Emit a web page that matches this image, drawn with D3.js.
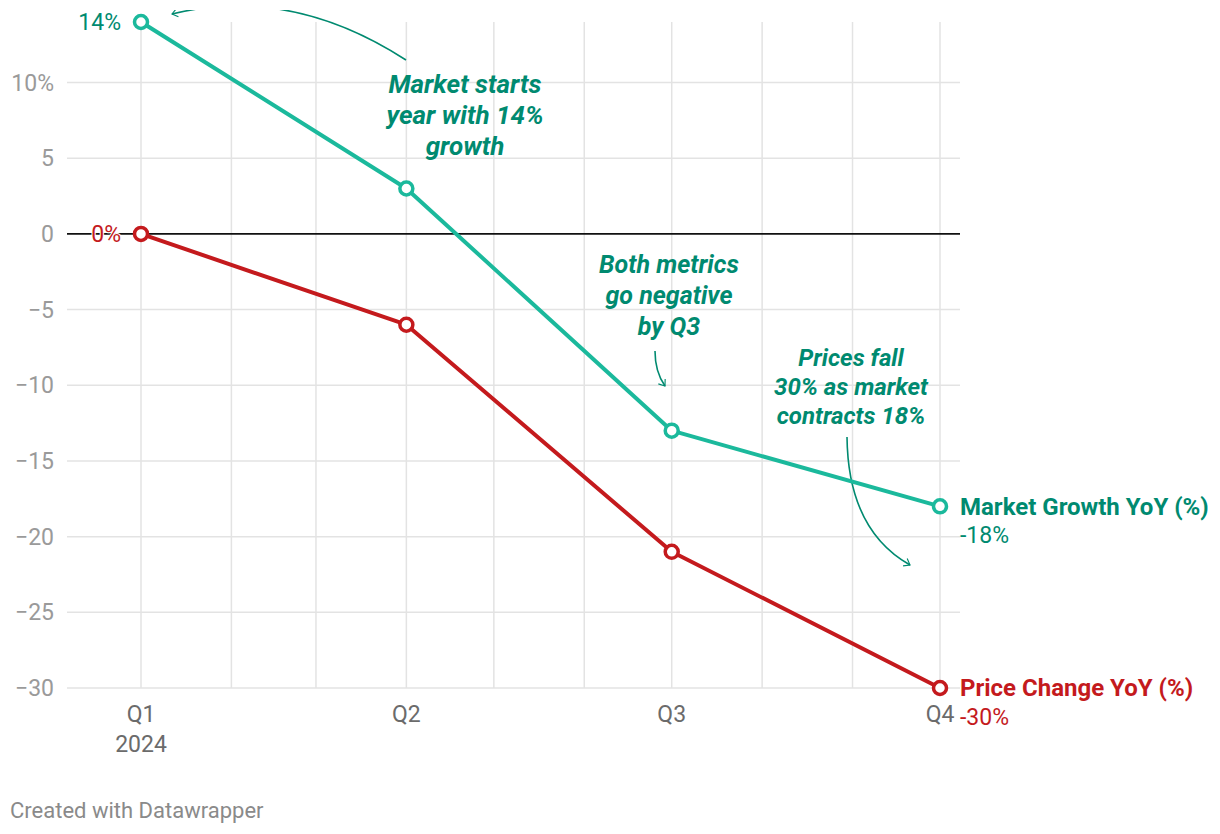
<!DOCTYPE html>
<html>
<head>
<meta charset="utf-8">
<script src="https://cdn.jsdelivr.net/npm/d3@7"></script>
<style>
  html, body { margin: 0; padding: 0; background: #fff; }
  svg { display: block; font-family: Roboto, "Noto Sans", sans-serif; }
</style>
</head>
<body>
<svg id="chart" width="1220" height="834"></svg>
<script>
// ---- Data ----
const quarters = ["Q1", "Q2", "Q3", "Q4"];
const quarterDates = ["2024-01-01", "2024-04-01", "2024-07-01", "2024-10-01"];
const marketGrowth = [14, 3, -13, -18];
const priceChange = [0, -6, -21, -30];
const yTicks = [10, 5, 0, -5, -10, -15, -20, -25, -30];
const seriesNames = ["Market Growth YoY (%)", "Price Change YoY (%)"];
const annotationTexts = [
  ["Market starts", "year with 14%", "growth"],
  ["Both metrics", "go negative", "by Q3"],
  ["Prices fall", "30% as market", "contracts 18%"]
];

// ---- Layout / style ----
const W = 1220, H = 834;
const plot = { left: 67, right: 960, top: 22, bottom: 688 };
const C = {
  teal: "#1bb99c", tealText: "#008a70",
  red: "#c41a1d", redText: "#c41a1d",
  grid: "#e3e3e3", axisText: "#9a9a9a", xText: "#6b6b6b", zero: "#111"
};
const parse = d3.timeParse("%Y-%m-%d");
const dates = quarterDates.map(parse);

const svg = d3.select("#chart");
const x = d3.scaleTime().domain([dates[0], dates[3]]).range([141, 940]);
const y = d3.scaleLinear().domain([-30, 14]).range([plot.bottom, plot.top]);

// horizontal grid
svg.append("g").selectAll("line").data(yTicks.filter(d => d !== 0)).join("line")
  .attr("x1", plot.left).attr("x2", plot.right)
  .attr("y1", d => y(d)).attr("y2", d => y(d))
  .attr("stroke", C.grid).attr("stroke-width", 1.5);

// vertical monthly grid
const months = x.ticks(d3.timeMonth.every(1));
svg.append("g").selectAll("line").data(months).join("line")
  .attr("x1", d => x(d)).attr("x2", d => x(d))
  .attr("y1", plot.top).attr("y2", plot.bottom)
  .attr("stroke", C.grid).attr("stroke-width", 1.5);

// y labels
svg.append("g").selectAll("text").data(yTicks).join("text")
  .attr("x", 54).attr("y", d => y(d)).attr("dy", "0.35em")
  .attr("text-anchor", "end").attr("fill", C.axisText)
  .style("font-size", "23px")
  .text(d => (d < 0 ? "\u2212" + Math.abs(d) : d) + (d === 10 ? "%" : ""));

// zero line
svg.append("line")
  .attr("x1", plot.left).attr("x2", plot.right)
  .attr("y1", y(0)).attr("y2", y(0))
  .attr("stroke", C.zero).attr("stroke-width", 1.6);

// x labels
const xl = svg.append("g");
xl.selectAll("text.q").data(quarters).join("text").attr("class", "q")
  .attr("x", (d, i) => x(dates[i])).attr("y", 714).attr("dy", "0.35em")
  .attr("text-anchor", "middle").attr("fill", C.xText)
  .style("font-size", "23px").text(d => d);
xl.append("text").attr("x", x(dates[0])).attr("y", 744).attr("dy", "0.35em")
  .attr("text-anchor", "middle").attr("fill", C.xText)
  .style("font-size", "23px").text(d3.timeFormat("%Y")(dates[0]));

// annotation arrows
const defs = svg.append("defs");
defs.append("marker").attr("id", "ah").attr("viewBox", "-10 -10 20 20")
  .attr("markerWidth", 14).attr("markerHeight", 14).attr("refX", 0).attr("refY", 0)
  .attr("orient", "auto").attr("markerUnits", "userSpaceOnUse")
  .append("path").attr("d", "M-8,-6 L0,0 L-8,6").attr("fill", "none")
  .attr("stroke", C.tealText).attr("stroke-width", 1.6);
defs.append("clipPath").attr("id", "topclip").append("rect")
  .attr("x", 0).attr("y", 10).attr("width", W).attr("height", H);

const arrows = [
  { p0: [406, 60], c: [290, -15], p1: [172, 14] },
  { p0: [655, 351], c: [655, 372], p1: [665, 386] },
  { p0: [847, 437], c: [848, 530], p1: [910, 565] }
];
svg.append("g").attr("clip-path", "url(#topclip)").selectAll("path").data(arrows).join("path")
  .attr("d", a => { const p = d3.path(); p.moveTo(...a.p0); p.quadraticCurveTo(...a.c, ...a.p1); return p.toString(); })
  .attr("fill", "none").attr("stroke", C.tealText).attr("stroke-width", 1.6)
  .attr("marker-end", "url(#ah)");

// annotation text
const annPos = [
  { x: 465, y: 84, lh: 31, size: 26 },
  { x: 669, y: 264, lh: 31, size: 25 },
  { x: 851, y: 358, lh: 29, size: 24 }
];
annotationTexts.forEach((lines, i) => {
  const p = annPos[i];
  const t = svg.append("text").attr("text-anchor", "middle")
    .attr("fill", C.tealText).style("font-size", p.size + "px")
    .style("font-weight", "700").style("font-style", "italic");
  lines.forEach((l, j) => t.append("tspan").attr("x", p.x).attr("y", p.y + j * p.lh).attr("dy", "0.35em").text(l));
});

// lines
const series = [
  { name: seriesNames[0], values: marketGrowth, line: C.teal, text: C.tealText },
  { name: seriesNames[1], values: priceChange, line: C.red, text: C.redText }
];
const lineGen = d3.line().x((d, i) => x(dates[i])).y(d => y(d));
series.forEach(s => {
  svg.append("path").datum(s.values).attr("d", lineGen)
    .attr("fill", "none").attr("stroke", s.line).attr("stroke-width", 4)
    .attr("stroke-linejoin", "round");
  svg.append("g").selectAll("circle").data(s.values).join("circle")
    .attr("cx", (d, i) => x(dates[i])).attr("cy", d => y(d)).attr("r", 6.5)
    .attr("fill", "#fff").attr("stroke", s.line).attr("stroke-width", 3.5);
});

// value labels
const fmt = v => (v < 0 ? "-" : "") + Math.abs(v) + "%";
series.forEach((s, k) => {
  svg.append("text").attr("x", x(dates[0]) - 20).attr("y", y(s.values[0])).attr("dy", "0.35em")
    .attr("text-anchor", "end").attr("fill", s.text).style("font-size", "23px")
    .attr("stroke", "#fff").attr("stroke-width", 2).attr("paint-order", "stroke")
    .text(fmt(s.values[0]));
  const last = s.values[s.values.length - 1];
  svg.append("text").attr("x", x(dates[3]) + 20).attr("y", y(last)).attr("dy", "0.35em")
    .attr("fill", s.text).style("font-size", "24px").style("font-weight", "700")
    .text(s.name);
  svg.append("text").attr("x", x(dates[3]) + 20).attr("y", y(last) + 29).attr("dy", "0.35em")
    .attr("fill", s.text).style("font-size", "23px")
    .text(fmt(last));
});

// footer
svg.append("text").attr("x", 10).attr("y", 810).attr("dy", "0.35em")
  .attr("fill", "#8a8a8a").style("font-size", "22px").text("Created with Datawrapper");
</script>
</body>
</html>
